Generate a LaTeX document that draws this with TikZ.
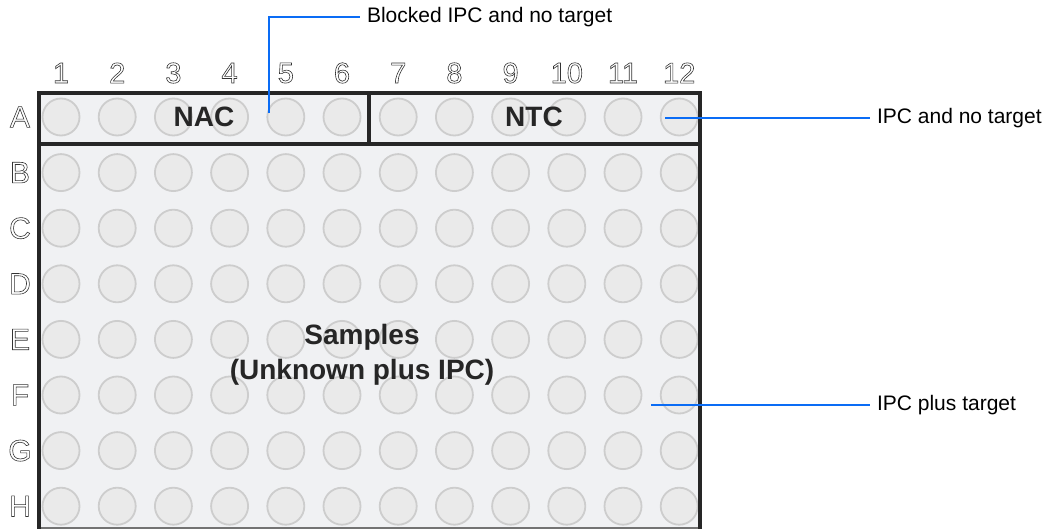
\documentclass[tikz,border=0pt]{standalone}
\usepackage{fontspec}
\setmainfont{Liberation Sans}
\usetikzlibrary{positioning, calc}
\definecolor{plate}{HTML}{F0F1F3}
\definecolor{wellfill}{HTML}{EAEAEA}
\definecolor{wellrim}{HTML}{CDCDCD}
\definecolor{callout}{HTML}{0A6CF5}
% outlined glyphs for the plate indices
\newcommand\hollow[1]{\special{pdf:literal direct 1 Tr 0.3 w}#1\special{pdf:literal direct 0 Tr}}

\begin{document}
\begin{tikzpicture}[x=0.5pt, y=-0.5pt,
    well/.style = {circle, draw=wellrim, fill=wellfill, line width=0.9pt, minimum size=18.5pt, inner sep=0pt},
    rim/.style  = {line width=1.8pt, draw=black!85},
    idx/.style  = {font=\fontsize{14.5}{16}\selectfont, text=black!80},
    tag/.style  = {font=\bfseries\fontsize{14}{17.5}\selectfont, text=black!85, align=center},
    note/.style = {font=\fontsize{10.5}{12}\selectfont, anchor=west, text=black},
    lead/.style = {draw=callout, line width=0.9pt}
                        ]
\useasboundingbox (0,0) rectangle (1053,529);
% plate
\fill[plate] (39,93) rectangle (700,529);
\foreach \r [count=\i] in {A,B,C,D,E,F,G,H}
  \foreach \c in {1,...,12}
    \node[well] (\r\c) at ({61+(\c-1)*56.2},{117+(\i-1)*55.6}) {};
\draw[black!55, line width=0.6pt] (39,528) -- (700,528);
\draw[rim] (39,529) -- (39,93) -- (700,93) -- (700,529);
\draw[rim] (39,144) -- (700,144);
\draw[rim] (369,93) -- (369,144);
% indices
\foreach \c in {1,...,12}
  \node[idx] (col\c) at ({61+(\c-1)*56.2},73) {\hollow{\c}};
\foreach \r [count=\i] in {A,B,C,D,E,F,G,H}
  \node[idx, font=\fontsize{15}{16}\selectfont] (row\r) at (20,{117+(\i-1)*55.6}) {\hollow{\r}};
% groups
\node[tag] (nac) at (204,117) {NAC};
\node[tag] (ntc) at (534,117) {NTC};
\node[tag] (smp) at (362,355) {Samples\\(Unknown plus IPC)};
% callouts
\coordinate (pA) at ($(A5)+(-16.5,-4)$);
\coordinate (pB) at ($(A12)+(-14,1)$);
\coordinate (pC) at ($(F12)+(-28,10)$);
\node[note] (blk)   at (360,17)  {Blocked IPC and no target};
\node[note] (noipc) at (870,118) {IPC and no target};
\node[note] (plus)  at (870,405) {IPC plus target};
\draw[lead] (pA) |- (blk.west);
\draw[lead] (pB) -- (noipc.west);
\draw[lead] (pC) -- (plus.west);
\end{tikzpicture}
\end{document}
